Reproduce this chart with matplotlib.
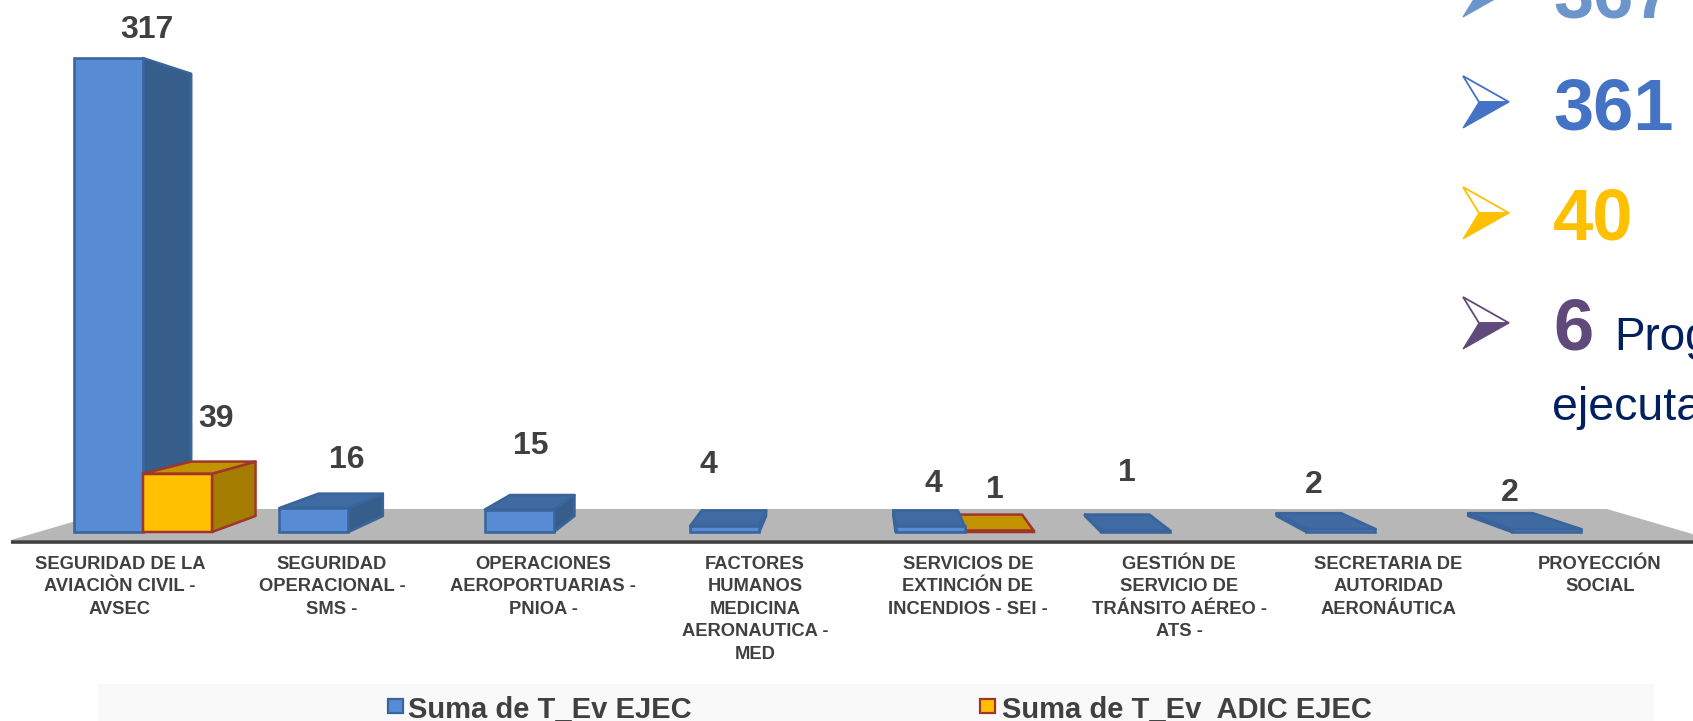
import matplotlib
matplotlib.use('Agg')
import matplotlib.pyplot as plt
from matplotlib.patches import Polygon, Rectangle

plt.rcParams['font.family'] = ['Liberation Sans', 'DejaVu Sans']

# Data
categories = [
    'SEGURIDAD DE LA\nAVIACIÒN CIVIL -\nAVSEC',
    'SEGURIDAD\nOPERACIONAL -\nSMS -',
    'OPERACIONES\nAEROPORTUARIAS -\nPNIOA -',
    'FACTORES\nHUMANOS\nMEDICINA\nAERONAUTICA -\nMED',
    'SERVICIOS DE\nEXTINCIÓN DE\nINCENDIOS - SEI -',
    'GESTIÓN DE\nSERVICIO DE\nTRÁNSITO AÉREO -\nATS -',
    'SECRETARIA DE\nAUTORIDAD\nAERONÁUTICA',
    'PROYECCIÓN\nSOCIAL',
]
t_ev_ejec = [317, 16, 15, 4, 4, 1, 2, 2]
t_ev_adic_ejec = [39, 0, 0, 0, 1, 0, 0, 0]
series_names = ['Suma de T_Ev EJEC', 'Suma de T_Ev  ADIC EJEC']
summary_numbers = ['367', '361', '40', '6']

# Layout, in pixels of the picture
W, H = 1693, 721
ejec_label_pos = [(147, 30), (347, 460), (531, 446), (708, 465), (933, 484), (1127, 473), (1314, 485), (1510, 493)]
adic_label_pos = [(216, 419), None, None, None, (995, 490), None, None, None]
cat_label_x = [120, 332, 543, 755, 968, 1179, 1388, 1600]
summary_colors = ['#6C96CB', '#4472C4', '#FFC000', '#604A7B']
summary_y = [-9, 102, 213, 323]

# 3D look: the depth of a bar shrinks towards a vanishing point
PX_PER_CAT = 205.4
PX_PER_UNIT = 1.495
BAR_W = 69 / PX_PER_CAT
VX, VY = 3.5, 160
K = 0.933

blue = dict(front='#578BD4', side='#375D8A', top='#3F6BA2', edge='#3A659C', lw=2.6)
gold = dict(front='#FFC000', side='#A47C00', top='#C39200', edge='#A0352C', lw=2.5)

fig = plt.figure(figsize=(W / 100, H / 100), dpi=100)

# overlay in pixel coordinates for floor, texts and decorations
bg = fig.add_axes([0, 0, 1, 1], zorder=1)
bg.set_xlim(0, W)
bg.set_ylim(H, 0)
bg.axis('off')

# bars axes: x in categories, y in series units
ax = fig.add_axes([0, 0, 1, 1], zorder=2)
ax.patch.set_alpha(0)
ax.set_xlim(-143 / PX_PER_CAT, (W - 143) / PX_PER_CAT)
ax.set_ylim(-(H - 532) / PX_PER_UNIT, 532 / PX_PER_UNIT)
ax.axis('off')

top = fig.add_axes([0, 0, 1, 1], zorder=3)
top.patch.set_alpha(0)
top.set_xlim(0, W)
top.set_ylim(H, 0)
top.axis('off')

# floor and axis line
bg.add_patch(Polygon([(11, 540), (117, 509), (1607, 509), (1713, 540)], closed=True,
                     facecolor='#B7B7B7', edgecolor='none'))
bg.plot([11, W], [541.5, 541.5], color='#404040', lw=2.6, solid_capstyle='butt')


def back(x, y):
    return VX + (x - VX) * K, VY + (y - VY) * K


def draw_bar(x0, value, st):
    x1 = x0 + BAR_W
    style = dict(closed=True, edgecolor=st['edge'], linewidth=st['lw'] * 0.72, joinstyle='round')
    if x1 < VX:
        pts = [(x1, 0), (x1, value), back(x1, value), back(x1, 0)]
        ax.add_patch(Polygon(pts, facecolor=st['side'], **style))
    if x0 > VX:
        pts = [(x0, 0), (x0, value), back(x0, value), back(x0, 0)]
        ax.add_patch(Polygon(pts, facecolor=st['side'], **style))
    if value < VY:
        pts = [(x0, value), (x1, value), back(x1, value), back(x0, value)]
        ax.add_patch(Polygon(pts, facecolor=st['top'], **style))
    ax.add_patch(Rectangle((x0, 0), BAR_W, value, facecolor=st['front'],
                           edgecolor=st['edge'], linewidth=st['lw'] * 0.72))


# outer bars first, those close to the vanishing point cover them
bars = []
for i in range(len(categories)):
    if t_ev_ejec[i] > 0:
        bars.append((i - BAR_W, t_ev_ejec[i], blue))
    if t_ev_adic_ejec[i] > 0:
        bars.append((i, t_ev_adic_ejec[i], gold))
bars.sort(key=lambda b: -abs(b[0] + BAR_W / 2 - VX))
for x0, value, st in bars:
    draw_bar(x0, value, st)

# value labels
for values, positions in [(t_ev_ejec, ejec_label_pos), (t_ev_adic_ejec, adic_label_pos)]:
    for value, pos in zip(values, positions):
        if pos is not None:
            top.text(pos[0], pos[1], str(value), ha='center', va='center',
                     fontsize=23, fontweight='bold', color='#404040')

# category labels
for x, label in zip(cat_label_x, categories):
    top.text(x, 556, label, ha='center', va='top', fontsize=13.2, fontweight='bold',
             color='#404040', linespacing=1.42)

# legend band
bg.add_patch(Rectangle((98, 684), 1556, 37, facecolor='#F9F9F9', edgecolor='none'))
for mx, tx, name, st in [(388, 408, series_names[0], blue), (980, 1002, series_names[1], gold)]:
    top.add_patch(Rectangle((mx, 699), 15, 14, facecolor=st['front'], edgecolor=st['edge'], linewidth=1.6))
    top.text(tx, 710, name, ha='left', va='center', fontsize=21, fontweight='bold', color='#404040')

# summary on the right, cut by the edge of the picture
for y, number, color in zip(summary_y, summary_numbers, summary_colors):
    top.add_patch(Polygon([(1463, y - 26), (1509, y), (1479, y)], closed=True, facecolor='white',
                          edgecolor=color, linewidth=1.3, joinstyle='miter'))
    top.add_patch(Polygon([(1479, y), (1509, y), (1463, y + 26)], closed=True, facecolor=color,
                          edgecolor=color, linewidth=0.8))
    top.text(1553, y + 27, number, ha='left', va='baseline', fontsize=52, fontweight='bold', color=color)

top.text(1614, 350, 'Prog', ha='left', va='baseline', fontsize=33, color='#002060')
top.text(1552, 420, 'ejecuta', ha='left', va='baseline', fontsize=33.5, color='#002060')

fig.savefig('out.png', dpi=100)
